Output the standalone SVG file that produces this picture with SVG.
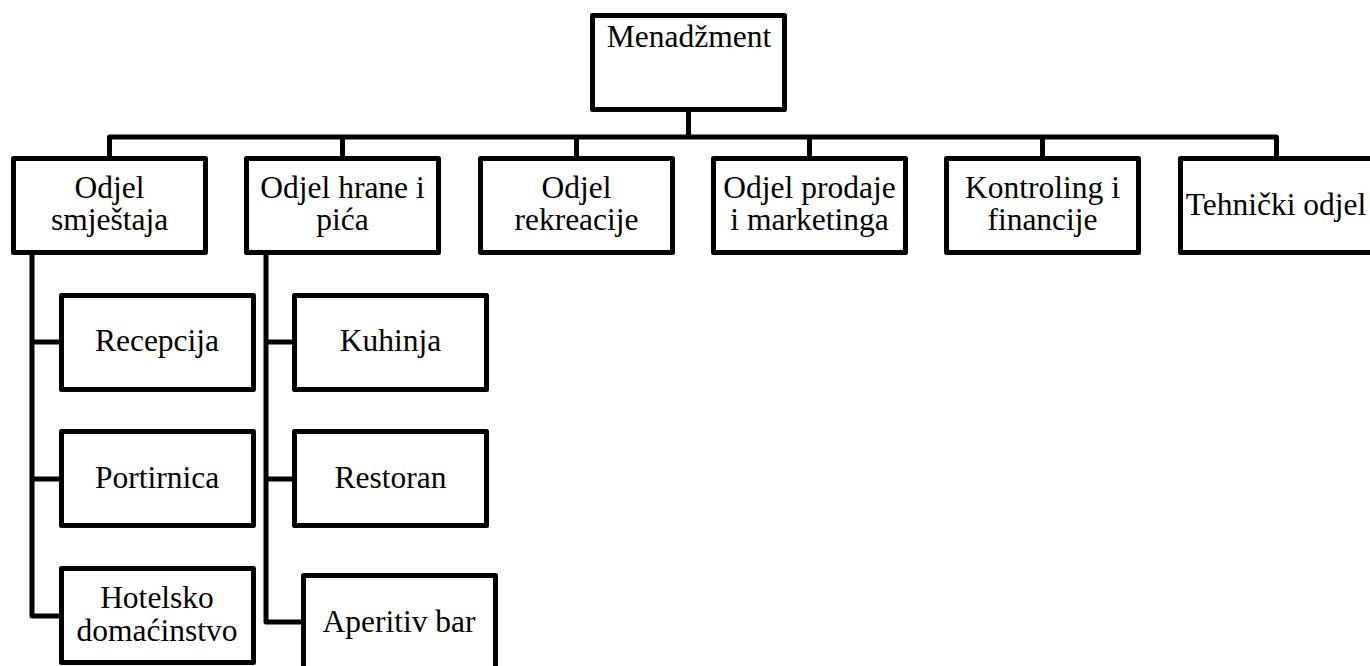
<svg xmlns="http://www.w3.org/2000/svg" width="1370" height="666" viewBox="0 0 1370 666">
<style>
.box{fill:#fff;stroke:#000;stroke-width:5;stroke-linejoin:round}
.con{fill:none;stroke:#000;stroke-width:5;stroke-linejoin:round}
text{font-family:"Liberation Serif","Times New Roman",serif;font-size:31.5px;fill:#000;text-anchor:middle}
</style>
<rect width="1370" height="666" fill="#fff"/>
<g id="connectors">
<path class="con" d="M688.5,109.5 V137"/>
<path class="con" d="M109.5,158.5 V137 H1276.5 V158.5"/>
<path class="con" d="M342.5,137 V158.5 M576.5,137 V158.5 M809.5,137 V158.5 M1042.5,137 V158.5"/>
<path class="con" d="M32,253 V616 H61.5 M32,342 H61.5 M32,479 H61.5"/>
<path class="con" d="M266,253 V622 H303.5 M266,342 H294.5 M266,479 H294.5"/>
</g>
<g id="menadzment"><rect class="box" x="592.5" y="15.5" width="192" height="94"/><text x="689" y="47">Menadžment</text></g>
<g id="smjestaj"><rect class="box" x="13.5" y="158.5" width="192" height="94"/><text x="109.5" y="198">Odjel</text><text x="109.5" y="230">smještaja</text></g>
<g id="hrana"><rect class="box" x="246.5" y="158.5" width="192" height="94"/><text x="342.5" y="198">Odjel hrane i</text><text x="342.5" y="230">pića</text></g>
<g id="rekreacija"><rect class="box" x="480.5" y="158.5" width="192" height="94"/><text x="576.5" y="198">Odjel</text><text x="576.5" y="230">rekreacije</text></g>
<g id="prodaja"><rect class="box" x="713.5" y="158.5" width="192" height="94"/><text x="809.5" y="198">Odjel prodaje</text><text x="809.5" y="230">i marketinga</text></g>
<g id="kontroling"><rect class="box" x="946.5" y="158.5" width="192" height="94"/><text x="1042.5" y="198">Kontroling i</text><text x="1042.5" y="230">financije</text></g>
<g id="tehnicki"><rect class="box" x="1180.5" y="158.5" width="192" height="94"/><text x="1276" y="215">Tehnički odjel</text></g>
<g id="recepcija"><rect class="box" x="61.5" y="295.5" width="192" height="94"/><text x="157" y="351">Recepcija</text></g>
<g id="portirnica"><rect class="box" x="61.5" y="431.5" width="192" height="94"/><text x="157" y="488">Portirnica</text></g>
<g id="domacinstvo"><rect class="box" x="61.5" y="568.5" width="192" height="94"/><text x="157" y="608">Hotelsko</text><text x="157" y="641">domaćinstvo</text></g>
<g id="kuhinja"><rect class="box" x="294.5" y="295.5" width="192" height="94"/><text x="390.5" y="351">Kuhinja</text></g>
<g id="restoran"><rect class="box" x="294.5" y="431.5" width="192" height="94"/><text x="390.5" y="488">Restoran</text></g>
<g id="aperitiv"><rect class="box" x="303.5" y="575.5" width="192" height="94"/><text x="399" y="632">Aperitiv bar</text></g>
</svg>
